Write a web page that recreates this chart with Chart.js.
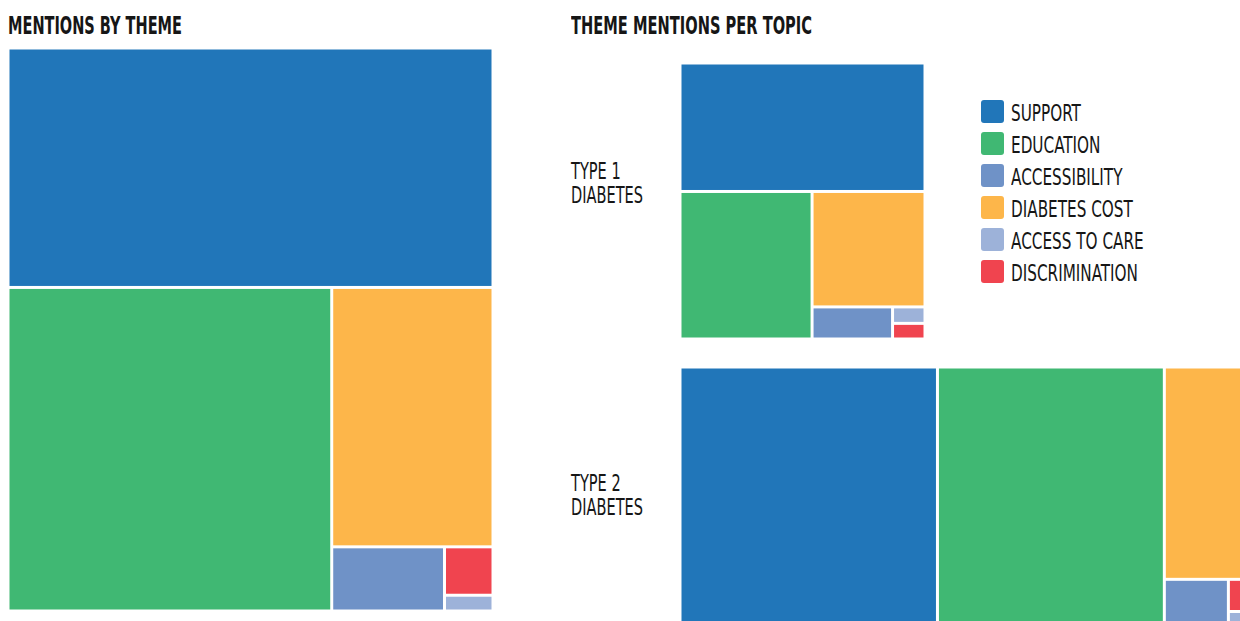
<!DOCTYPE html>
<html>
<head>
<meta charset="utf-8">
<script src="https://cdn.jsdelivr.net/npm/chart.js@4.4.1/dist/chart.umd.min.js"></script>
<style>
  body {
    margin: 0;
    width: 1240px;
    height: 621px;
    overflow: hidden;
    position: relative;
    background: #fff;
    color: #161616;
    font-family: "Liberation Sans Narrow", "DejaVu Sans Condensed", "Liberation Sans", sans-serif;
  }
  canvas { position: absolute; }
  .t { position: absolute; white-space: nowrap; transform-origin: 0 0; }
  .title { font-weight: bold; font-size: 24.5px; line-height: 24.5px; top: 13.5px; }
  .topic { font-size: 23.3px; line-height: 24px; left: 571px; }
  .row { position: absolute; left: 981px; width: 200px; height: 23px; }
  .sw { position: absolute; left: 0; top: 0; width: 23px; height: 23px; border-radius: 3px; }
  .lab { position: absolute; left: 30px; top: 1px; font-size: 23.3px; line-height: 23.3px; white-space: nowrap; transform-origin: 0 0; }
</style>
</head>
<body>
<div class="t title" id="title1" style="left:8px">MENTIONS BY THEME</div>
<div class="t title" id="title2" style="left:571px">THEME MENTIONS PER TOPIC</div>

<canvas id="overall" width="485" height="563" style="left:8px;top:48px"></canvas>
<canvas id="type1" width="245" height="276" style="left:680px;top:63px"></canvas>
<canvas id="type2" width="577" height="275" style="left:680px;top:367px"></canvas>

<div id="legend"></div>

<script>
// themes, in legend order
const themes = ['SUPPORT', 'EDUCATION', 'ACCESSIBILITY', 'DIABETES COST', 'ACCESS TO CARE', 'DISCRIMINATION'];
const themeColors = ['#2176b9', '#40b873', '#6f92c7', '#fdb64a', '#9db2d9', '#f0444f'];

// share of mentions (%) per theme, same order as themes
const overallShare = [42.53, 38.36, 2.65, 15.32, 0.28, 0.86];
const type1Share = [46.55, 28.81, 3.82, 19.28, 0.79, 0.75];
const type2Share = [44.62, 39.32, 2.53, 12.40, 0.55, 0.58];

const topics = [['TYPE 1', 'DIABETES'], ['TYPE 2', 'DIABETES']];

// slice the biggest item off along the longer side, then recurse on the rest
function sliceLayout(items, x0, y0, x1, y1, out) {
  if (!items.length) return;
  if (items.length === 1) {
    out.push({ i: items[0].i, x0, y0, x1, y1 });
    return;
  }
  const total = items.reduce((s, d) => s + d.v, 0);
  const f = items[0].v / total;
  if ((x1 - x0) > (y1 - y0) * 1.1) {
    const xm = x0 + (x1 - x0) * f;
    out.push({ i: items[0].i, x0, y0, x1: xm, y1 });
    sliceLayout(items.slice(1), xm, y0, x1, y1, out);
  } else {
    const ym = y0 + (y1 - y0) * f;
    out.push({ i: items[0].i, x0, y0, x1, y1: ym });
    sliceLayout(items.slice(1), x0, ym, x1, y1, out);
  }
}

const treemapPlugin = {
  id: 'treemap',
  beforeDatasetsDraw(chart) {
    const { ctx, chartArea, scales } = chart;
    const ds = chart.data.datasets[0];
    const aspect = chartArea.width / chartArea.height;
    const items = ds.tree.map((v, i) => ({ v, i })).sort((a, b) => b.v - a.v);
    const cells = [];
    sliceLayout(items, 0, 0, aspect, 1, cells);
    const gap = 1.5;
    ctx.save();
    cells.forEach(c => {
      const l = scales.x.getPixelForValue(c.x0 / aspect) + gap;
      const r = scales.x.getPixelForValue(c.x1 / aspect) - gap;
      const t = scales.y.getPixelForValue(c.y0) + gap;
      const b = scales.y.getPixelForValue(c.y1) - gap;
      ctx.fillStyle = themeColors[c.i];
      ctx.fillRect(l, t, r - l, b - t);
    });
    ctx.restore();
  }
};

function makeTreemap(id, label, shares) {
  return new Chart(document.getElementById(id), {
    type: 'scatter',
    data: {
      labels: themes,
      datasets: [{ label: label, data: [], tree: shares }]
    },
    options: {
      responsive: false,
      animation: false,
      layout: { padding: 0 },
      plugins: { legend: { display: false }, tooltip: { enabled: false } },
      scales: {
        x: { display: false, min: 0, max: 1 },
        y: { display: false, min: 0, max: 1, reverse: true }
      }
    },
    plugins: [treemapPlugin]
  });
}

makeTreemap('overall', 'All mentions', overallShare);
makeTreemap('type1', 'Type 1 diabetes', type1Share);
makeTreemap('type2', 'Type 2 diabetes', type2Share);

// topic labels
const topicTops = [159, 471];
const topicEls = topics.map((lines, k) => {
  const el = document.createElement('div');
  el.className = 't topic';
  el.style.top = topicTops[k] + 'px';
  el.innerHTML = lines.join('<br>');
  document.body.appendChild(el);
  return el;
});

// legend
const legend = document.getElementById('legend');
const labEls = themes.map((name, i) => {
  const row = document.createElement('div');
  row.className = 'row';
  row.style.top = (100 + 32 * i) + 'px';
  const sw = document.createElement('div');
  sw.className = 'sw';
  sw.style.background = themeColors[i];
  const lab = document.createElement('div');
  lab.className = 'lab';
  lab.textContent = name;
  row.appendChild(sw);
  row.appendChild(lab);
  legend.appendChild(row);
  return lab;
});

// squeeze the text to the condensed look of the original
function fit(el, width) {
  el.style.transform = 'none';
  const k = width / el.getBoundingClientRect().width;
  el.style.transform = 'scaleX(' + k + ')';
  return k;
}
fit(document.getElementById('title1'), 174);
fit(document.getElementById('title2'), 241);
topicEls.forEach(el => fit(el, 72));
const k = fit(labEls[5], 127);
labEls.forEach(el => { el.style.transform = 'scaleX(' + k + ')'; });
</script>
</body>
</html>
